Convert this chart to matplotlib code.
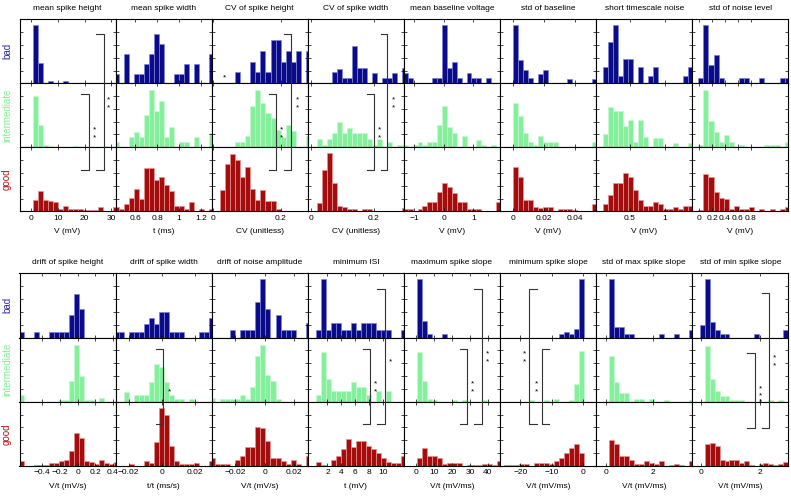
import matplotlib
matplotlib.use('Agg')
import matplotlib.pyplot as plt
from matplotlib.transforms import blended_transform_factory
from matplotlib.ticker import MultipleLocator

plt.rcParams['font.family'] = ['Liberation Sans', 'DejaVu Sans']
plt.rcParams['font.size'] = 6

groups = ['bad', 'intermediate', 'good']
bar_colors = ['#0b0b87', '#84f09c', '#a30d0d']
edge_colors = ['#7c84dc', '#c8f8d4', '#e89494']
label_colors = ['#2a2aa0', '#7ef092', '#b01414']

# ---------------- top block ----------------
top_titles = ['mean spike height', 'mean spike width', 'CV of spike height', 'CV of spike width',
              'mean baseline voltage', 'std of baseline', 'short timescale noise', 'std of noise level']
top_xlabels = ['V (mV)', 't (ms)', 'CV (unitless)', 'CV (unitless)', 'V (mV)', 'V (mV)', 'V (mV)', 'V (mV)']
top_bin_start = [0.5, 0.409, 0.005, 0.0032, -1.371, 0.0, 0.119, -0.016]
top_bin_width = [1.875, 0.04545, 0.015, 0.0158, 0.165, 0.00319, 0.0714, 0.0795]
top_xlim = [(-4.4, 31.6), (0.421, 1.297), (-0.005, 0.281), (-0.0095, 0.2947),
            (-1.337, 1.9), (-0.0081, 0.0534), (0.016, 1.389), (-0.11, 1.39)]
top_ticks = [[0, 10, 20, 30], [0.6, 0.8, 1, 1.2], [0, 0.2], [0, 0.2],
             [-1, 0, 1], [0, 0.02, 0.04], [0.5, 1], [0, 0.2, 0.4, 0.6, 0.8]]

# bar heights (% of panel height), one list per bin
msh_bad = [91, 32, 0, 4, 0, 0, 4]
msh_int = [80, 35, 4, 2, 0, 0, 0, 0, 2, 0, 0, 0, 0, 0, 2]
msh_good = [17, 31, 17, 16, 15, 3, 9, 4, 3, 3, 2, 2, 2, 6, 0, 0, 7]
msw_bad = [15, 0, 46, 0, 15, 15, 30, 46, 77, 62, 0, 0, 15, 15, 30, 0, 30, 0, 0, 46]
msw_int = [8, 0, 0, 16, 24, 16, 50, 90, 57, 73, 16, 32, 0, 8, 8, 0, 16, 0, 0, 23]
msw_good = [7, 4, 11, 21, 35, 19, 67, 67, 49, 54, 41, 31, 9, 9, 4, 15, 0, 4, 0, 4]
cvh_bad = [0, 0, 0, 0, 17, 0, 0, 33, 17, 50, 17, 67, 67, 33, 50, 33, 50, 0, 50]
cvh_int = [0, 0, 0, 0, 8, 8, 17, 64, 90, 70, 53, 46, 27, 16, 35, 26, 0, 0, 17]
cvh_good = [0, 34, 74, 89, 80, 54, 69, 35, 18, 33, 16, 16, 4]
cvw_bad = [0, 0, 0, 0, 17, 23, 8, 8, 58, 24, 24, 0, 16, 0, 8, 8, 16, 0, 24]
cvw_int = [0, 13, 4, 13, 22, 39, 22, 30, 22, 22, 22, 13, 4, 13, 0, 8, 0, 4, 4]
cvw_good = [0, 13, 64, 91, 44, 9, 7, 4, 4, 0, 4, 3, 0, 0, 0, 0, 0, 0, 5]
mbv_bad = [16, 8, 0, 0, 0, 0, 8, 8, 91, 24, 33, 8, 0, 16, 8, 8, 0, 8]
mbv_int = [4, 0, 4, 8, 4, 8, 8, 35, 65, 31, 23, 0, 17, 0, 0, 12, 4, 0, 4]
mbv_good = [4, 4, 0, 4, 9, 15, 15, 30, 44, 38, 29, 15, 15, 3, 4, 3, 0, 0, 0, 15]
sdb_bad = [91, 36, 21, 8, 0, 14, 21, 0, 0, 0, 0, 7, 0, 0, 0, 0, 7]
sdb_int = [70, 49, 22, 8, 4, 18, 8, 8, 8, 0, 0, 0, 0, 0, 0, 0, 8]
sdb_good = [69, 53, 17, 17, 7, 5, 7, 7, 0, 4, 4, 4, 2, 0, 0, 0, 12]
stn_bad = [26, 65, 91, 12, 38, 38, 0, 25, 0, 12, 25, 0, 0, 0, 0, 0, 12, 25]
stn_int = [21, 63, 56, 56, 34, 42, 8, 42, 16, 0, 15, 15, 0, 0, 6, 0, 0, 6]
stn_good = [11, 26, 44, 44, 60, 53, 34, 18, 8, 8, 15, 11, 3, 3, 7, 4, 8, 8]
snl_bad = [8, 91, 29, 45, 8, 0, 0, 0, 8, 8, 0, 0, 8, 0, 0, 0, 8, 8]
snl_int = [4, 90, 41, 24, 8, 19, 8, 0, 4, 0, 0, 0, 0, 4, 4, 4, 0, 8]
snl_good = [2, 59, 54, 30, 21, 19, 4, 9, 4, 4, 7, 0, 3, 0, 4, 0, 3, 7]

top_heights = [
    [msh_bad, msh_int, msh_good], [msw_bad, msw_int, msw_good],
    [cvh_bad, cvh_int, cvh_good], [cvw_bad, cvw_int, cvw_good],
    [mbv_bad, mbv_int, mbv_good], [sdb_bad, sdb_int, sdb_good],
    [stn_bad, stn_int, stn_good], [snl_bad, snl_int, snl_good],
]

# ---------------- bottom block ----------------
bot_titles = ['drift of spike height', 'drift of spike width', 'drift of noise amplitude', 'minimum ISI',
              'maximum spike slope', 'minimum spike slope', 'std of max spike slope', 'std of min spike slope']
bot_xlabels = ['V/t (mV/s)', 't/t (ms/s)', 'V/t (mV/s)', 't (mV)',
               'V/t (mV/ms)', 'V/t (mV/ms)', 'V/t (mV/ms)', 'V/t (mV/ms)']
bot_bin_start = [-0.668, -0.0286, -0.03726, 0.43, 0.56, -26.8, 0.114, -0.022]
bot_bin_width = [0.0566, 0.003, 0.00343, 0.714, 2.78, 1.58, 0.214, 0.165]
bot_xlim = [(-0.657, 0.43), (-0.0278, 0.030), (-0.0361, 0.0293), (-0.81, 12.95),
            (-6.85, 46.7), (-26.4, 3.99), (-0.414, 3.66), (-0.297, 2.97)]
bot_ticks = [[-0.4, -0.2, 0, 0.2, 0.4], [-0.02, 0, 0.02], [-0.02, 0, 0.02], [2, 4, 6, 8, 10],
             [0, 10, 20, 30, 40], [-20, -10, 0], [0, 2], [0, 2]]

dsh_bad = [8, 0, 0, 8, 0, 0, 8, 8, 8, 8, 35, 68, 45]
dsh_int = [10, 0, 0, 0, 0, 0, 0, 0, 3, 3, 32, 89, 40, 3, 3, 0, 6]
dsh_good = [8, 0, 0, 2, 2, 2, 4, 4, 7, 9, 23, 52, 43, 8, 6, 3, 9, 4, 3, 6]
dsw_bad = [8, 8, 0, 8, 8, 8, 21, 30, 21, 40, 40, 8, 8, 8, 0, 0, 0, 8, 8, 30]
dsw_int = [0, 0, 15, 0, 10, 10, 10, 30, 59, 54, 31, 10, 4, 4, 0, 4]
dsw_good = [0, 0, 0, 3, 0, 0, 8, 4, 38, 90, 80, 31, 8, 3, 3, 3, 4, 0, 0, 8]
dna_bad = [0, 0, 0, 0, 11, 0, 11, 11, 11, 56, 91, 44, 0, 35, 11, 11, 11, 0, 0, 22]
dna_int = [6, 0, 5, 5, 5, 5, 11, 5, 23, 71, 89, 41, 32, 5]
dna_good = [13, 3, 3, 3, 0, 9, 16, 30, 30, 61, 59, 39, 13, 13, 8, 3, 9, 3, 0, 16]
isi_bad = [11, 91, 11, 22, 22, 11, 11, 22, 11, 22, 22, 22, 11, 11, 11, 0, 0, 11]
isi_int = [11, 78, 35, 17, 17, 17, 17, 30, 23, 23, 11, 0, 17, 0, 17]
isi_good = [6, 2, 0, 9, 16, 26, 42, 29, 39, 39, 31, 26, 20, 13, 6, 4, 4, 16]
mxs_bad = [91, 26, 5, 0, 0, 5]
mxs_int = [78, 32, 4, 2, 0, 0, 0, 2, 0, 2, 0, 0, 0, 2]
mxs_good = [12, 28, 16, 16, 13, 3, 4, 5, 5, 0, 2, 2, 2, 3, 3, 2, 7]
mns_bad = [0, 0, 0, 0, 0, 0, 0, 0, 0, 0, 0, 0, 5, 9, 5, 13, 91]
mns_int = [0, 0, 0, 0, 0, 0, 2, 0, 0, 2, 0, 4, 0, 0, 2, 27, 79]
mns_good = [0, 2, 2, 2, 3, 3, 0, 4, 4, 4, 3, 7, 13, 21, 28, 34, 20]
sxs_bad = [91, 16, 16, 6, 6, 0, 0, 0, 0, 0, 6, 0, 0, 6, 0, 0, 11]
sxs_int = [71, 31, 14, 14, 0, 5, 5, 0, 5, 0, 0, 3, 0, 0, 0, 0, 2]
sxs_good = [40, 35, 16, 16, 9, 3, 3, 7, 5, 3, 8, 0, 2, 3, 2, 0, 8]
sns_bad = [19, 91, 24, 11, 6, 6, 0, 0, 0, 0, 0, 6, 0, 0, 0, 0, 0, 11]
sns_int = [0, 87, 35, 17, 9, 9, 3, 3, 3, 0, 0, 0, 0, 0, 3, 0, 3]
sns_good = [0, 34, 36, 31, 10, 8, 10, 9, 4, 8, 2, 0, 3, 5, 3, 2, 3, 6]

bot_heights = [
    [dsh_bad, dsh_int, dsh_good], [dsw_bad, dsw_int, dsw_good],
    [dna_bad, dna_int, dna_good], [isi_bad, isi_int, isi_good],
    [mxs_bad, mxs_int, mxs_good], [mns_bad, mns_int, mns_good],
    [sxs_bad, sxs_int, sxs_good], [sns_bad, sns_int, sns_good],
]

# significance brackets: (column, x, stub_x, y_bottom, y_top, star_x, star_ys)
# x in the column's data units, y in row units (0 = bottom of "good", 3 = top of "bad")
top_brackets = [
    (0, 27.1, 24.4, 0.653, 2.765, 29.0, [1.748, 1.623]),
    (0, 21.5, 18.75, 0.653, 1.826, 23.6, [1.279, 1.153]),
    (2, 0.185, 0.165, 0.653, 1.826, 0.203, [1.279, 1.153]),
    (2, 0.23, 0.21, 0.653, 2.765, 0.249, [1.748, 1.623]),
    (3, 0.2, 0.177, 0.653, 1.826, 0.217, [1.279, 1.153]),
    (3, 0.242, 0.221, 0.653, 2.765, 0.263, [1.748, 1.623]),
]
top_single_stars = [(2, 0.034, 2.09)]
bot_brackets = [
    (1, 0.001, -0.0034, 0.649, 1.817, 0.0044, [1.153]),
    (3, 8.1, 7.1, 0.649, 1.817, 8.9, [1.272, 1.153]),
    (3, 10.2, 9.14, 0.649, 2.751, 11.05, [1.614]),
    (4, 28.3, 24.3, 0.649, 1.817, 31.3, [1.272, 1.153]),
    (4, 36.7, 32.4, 0.649, 2.751, 39.8, [1.739, 1.614]),
    (5, -17.3, -14.7, 0.649, 2.751, -18.8, [1.739, 1.614]),
    (5, -13.2, -10.8, 0.649, 1.817, -14.8, [1.272, 1.153]),
    (7, 1.84, 1.574, 0.587, 1.755, 2.01, [1.199, 1.090, 0.992]),
    (7, 2.33, 2.09, 0.587, 2.689, 2.51, [1.677, 1.557]),
]

W, H = 791, 497
fig = plt.figure(figsize=(W / 100, H / 100), dpi=100)

col_left = 19.5
col_w = 96.1


def draw_block(top_px, row_h, titles, xlabels, bin_start, bin_width, xlims, ticks, heights,
               brackets, single_stars):
    good_axes = []
    for c in range(8):
        axes_col = []
        for r in range(3):
            x0 = col_left + c * col_w
            y0 = top_px + r * row_h
            ax = fig.add_axes([x0 / W, 1 - (y0 + row_h) / H, col_w / W, row_h / H])
            hs = heights[c][r]
            xs = [bin_start[c] + i * bin_width[c] for i, h in enumerate(hs) if h > 0]
            hv = [h for h in hs if h > 0]
            ax.bar(xs, hv, width=bin_width[c], align='edge', color=bar_colors[r],
                   edgecolor=edge_colors[r], linewidth=0.5)
            ax.set_xlim(*xlims[c])
            ax.set_ylim(0, 100)
            ax.yaxis.set_major_locator(MultipleLocator(20))
            ax.set_yticklabels([])
            ax.tick_params(direction='in', length=2, width=0.5, top=True, right=True,
                           labelsize=6, pad=2.5)
            for s in ax.spines.values():
                s.set_linewidth(0.8)
            ax.set_xticks(ticks[c])
            if r == 2:
                ax.set_xticklabels(['%g' % t if t >= 0 else '\u2212%g' % (-t) for t in ticks[c]])
                ax.set_xlabel(xlabels[c], fontsize=6, labelpad=4.5)
            else:
                ax.set_xticklabels([])
            if r == 0:
                ax.set_title(titles[c], fontsize=6, pad=7)
            if c == 0:
                cy = 1 - (y0 + row_h / 2) / H
                fig.text(7 / W, cy, groups[r], rotation=90, ha='center', va='center',
                         fontsize=7, color=label_colors[r])
            axes_col.append(ax)
        good_axes.append(axes_col[2])

    for (c, x, xs, yb, yt, sx, sys_) in brackets:
        ax = good_axes[c]
        tr = blended_transform_factory(ax.transData, ax.transAxes)
        ax.plot([xs, x, x, xs], [yt, yt, yb, yb], transform=tr, color='#333333',
                lw=0.8, clip_on=False, zorder=10)
        for sy in sys_:
            ax.text(sx, sy, '*', transform=tr, ha='center', va='center', fontsize=6,
                    color='black', clip_on=False, zorder=10)
    for (c, sx, sy) in single_stars:
        ax = good_axes[c]
        tr = blended_transform_factory(ax.transData, ax.transAxes)
        ax.text(sx, sy, '*', transform=tr, ha='center', va='center', fontsize=6,
                color='black', clip_on=False, zorder=10)


draw_block(19.3, 64.0, top_titles, top_xlabels, top_bin_start, top_bin_width, top_xlim,
           top_ticks, top_heights, top_brackets, top_single_stars)
draw_block(273.3, 64.23, bot_titles, bot_xlabels, bot_bin_start, bot_bin_width, bot_xlim,
           bot_ticks, bot_heights, bot_brackets, [])

fig.savefig('out.png', dpi=100)
